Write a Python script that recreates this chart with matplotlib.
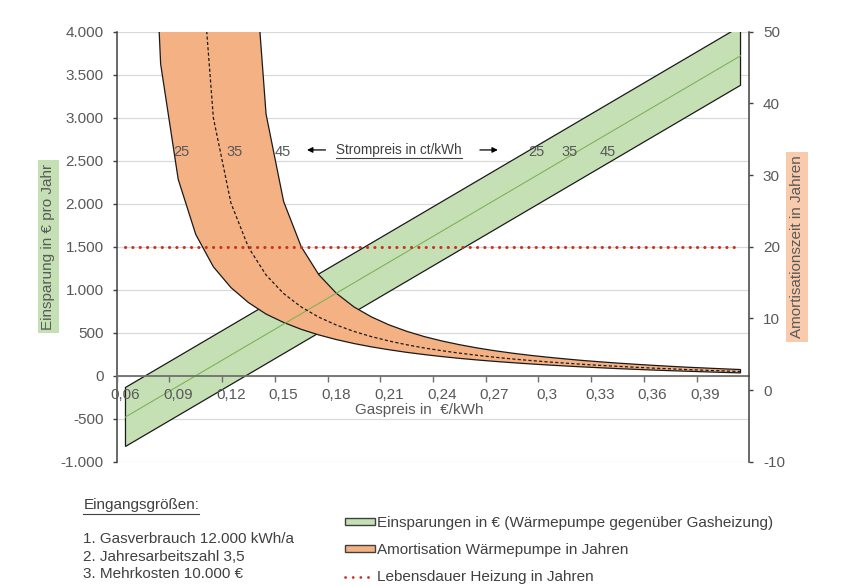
import numpy as np
import matplotlib
matplotlib.use("Agg")
import matplotlib.pyplot as plt
from matplotlib.lines import Line2D
from matplotlib.patches import Patch

# ---------------- data ----------------
gas_price = [0.06, 0.07, 0.08, 0.09, 0.10, 0.11, 0.12, 0.13, 0.14, 0.15,
             0.16, 0.17, 0.18, 0.19, 0.20, 0.21, 0.22, 0.23, 0.24, 0.25,
             0.26, 0.27, 0.28, 0.29, 0.30, 0.31, 0.32, 0.33, 0.34, 0.35,
             0.36, 0.37, 0.38, 0.39, 0.40, 0.41]

savings_x = [0.06, 0.41]
savings_25 = [-137, 4063]
savings_35 = [-480, 3720]
savings_45 = [-823, 3377]

nan = np.nan
amort_25 = [nan, 100, 45.5, 29.4, 21.7, 17.2, 14.3, 12.2, 10.6, 9.43,
            8.47, 7.69, 7.04, 6.49, 6.02, 5.62, 5.26, 4.95, 4.67, 4.42,
            4.20, 4.00, 3.82, 3.65, 3.50, 3.36, 3.23, 3.11, 2.99, 2.89,
            2.79, 2.70, 2.62, 2.54, 2.46, 2.39]
amort_35 = [nan, nan, nan, 435, 69.9, 38.0, 26.1, 19.9, 16.05, 13.46,
            11.59, 10.17, 9.07, 8.18, 7.45, 6.84, 6.32, 5.87, 5.49, 5.15,
            4.85, 4.58, 4.34, 4.13, 3.93, 3.76, 3.59, 3.44, 3.31, 3.18,
            3.06, 2.96, 2.85, 2.76, 2.67, 2.59]
amort_45 = [nan, nan, nan, nan, nan, nan, 500, 71.4, 38.5, 26.3,
            20.0, 16.1, 13.5, 11.6, 10.2, 9.09, 8.20, 7.46, 6.85, 6.33,
            5.88, 5.49, 5.15, 4.85, 4.59, 4.35, 4.13, 3.94, 3.76, 3.60,
            3.45, 3.31, 3.18, 3.07, 2.96, 2.86]
lifetime_years = 20

x_tick_values = [0.06, 0.09, 0.12, 0.15, 0.18, 0.21, 0.24, 0.27, 0.30, 0.33, 0.36, 0.39]
x_tick_labels = ["0,06", "0,09", "0,12", "0,15", "0,18", "0,21", "0,24", "0,27",
                 "0,3", "0,33", "0,36", "0,39"]
left_ticks = [-1000, -500, 0, 500, 1000, 1500, 2000, 2500, 3000, 3500, 4000]
left_tick_labels = ["-1.000", "-500", "0", "500", "1.000", "1.500", "2.000",
                    "2.500", "3.000", "3.500", "4.000"]
right_ticks = [-10, 0, 10, 20, 30, 40, 50]
right_tick_labels = ["-10", "0", "10", "20", "30", "40", "50"]
price_labels = ["25", "35", "45"]

# ---------------- style ----------------
plt.rcParams["font.family"] = ["Liberation Sans", "DejaVu Sans"]
GRAY = "#595959"
TXT = "#404040"
GREEN = "#c5e0b4"
ORANGE = "#f4b183"
RED = "#c8321e"

W, H = 844, 585
fig = plt.figure(figsize=(W / 100, H / 100), dpi=100)

def fx(px):
    return px / W

def fy(py):
    return 1 - py / H

ax = fig.add_axes([fx(116.7), fy(461.7), fx(749.3) - fx(116.7), fy(31.7) - fy(461.7)])
ax2 = ax.twinx()
x0 = gas_price[0] - 0.005
x1 = gas_price[-1] + 0.005
ax.set_xlim(x0, x1)
ax.set_ylim(-1000, 4000)
ax2.set_ylim(-10, 50)

for v in left_ticks:
    ax.axhline(v, color="#d9d9d9", lw=0.9, zorder=0)

gp = np.array(gas_price)
s25 = np.array(savings_25, float)
s35 = np.array(savings_35, float)
s45 = np.array(savings_45, float)
sx = np.array(savings_x, float)

ax.fill(np.r_[sx, sx[::-1]], np.r_[s45, s25[::-1]], facecolor=GREEN,
        edgecolor="#1a1a1a", lw=0.9, zorder=2)

a25 = np.array(amort_25, float)
a35 = np.array(amort_35, float)
a45 = np.array(amort_45, float)
m_lo = ~np.isnan(a25)
m_hi = ~np.isnan(a45)
m_mid = ~np.isnan(a35)
poly_x = np.r_[gp[m_lo], gp[m_hi][::-1]]
poly_y = np.r_[a25[m_lo], a45[m_hi][::-1]]
ax.fill(poly_x, poly_y, facecolor=ORANGE, edgecolor="#1a1a1a", lw=0.9,
        transform=ax2.transData, zorder=3)

ax.plot(sx, s35, color="#7fb35a", lw=0.8, zorder=4)
ax.plot(gp[m_mid], a35[m_mid], color="#1a1a1a", lw=0.9, ls=(0, (2.5, 1.8)),
        transform=ax2.transData, zorder=5)
ax.plot(gp, [lifetime_years] * len(gp), color=RED, lw=2.2,
        ls=(0, (0.05, 2.35)), dash_capstyle="round",
        transform=ax2.transData, zorder=6)

for s in ["top", "right"]:
    ax.spines[s].set_visible(False)
for s in ["top", "left", "bottom"]:
    ax2.spines[s].set_visible(False)
ax.spines["bottom"].set_position(("data", 0))
ax.spines["bottom"].set_color("#6f6f6f")
ax.spines["bottom"].set_linewidth(1.3)
ax.spines["bottom"].set_zorder(7)
ax.spines["left"].set_color(TXT)
ax.spines["left"].set_linewidth(1.1)
ax2.spines["right"].set_color(TXT)
ax2.spines["right"].set_linewidth(1.1)
ax.xaxis.set_zorder(9)

ax.set_xticks([g - 0.005 for g in gas_price[::3]])
ax.set_xticklabels([])
ax.tick_params(axis="x", which="major", length=4, width=1, color="#6f6f6f", direction="out")
ax.set_xticks(x_tick_values, minor=True)
ax.set_xticklabels(x_tick_labels, minor=True)
ax.tick_params(axis="x", which="minor", length=0, pad=8.5, labelsize=11, labelcolor=GRAY)

ax.set_yticks(left_ticks)
ax.set_yticklabels(left_tick_labels)
ax.tick_params(axis="y", length=3, width=1, color=TXT, pad=6.5, labelsize=11, labelcolor=GRAY)
ax2.set_yticks(right_ticks)
ax2.set_yticklabels(right_tick_labels)
ax2.tick_params(axis="y", length=3, width=1, color=TXT, pad=6.8, labelsize=11, labelcolor=GRAY)

ax.text(0.227, -400, "Gaspreis in  €/kWh", ha="center", va="center",
        fontsize=11, color=GRAY, zorder=8)
fig.text(fx(48.5), fy(246.5), "Einsparung in € pro Jahr", rotation=90, ha="center",
         va="center", fontsize=11, color=GRAY,
         bbox=dict(facecolor=GREEN, edgecolor="none", pad=2.5))
fig.text(fx(797), fy(247), "Amortisationszeit in Jahren", rotation=90, ha="center",
         va="center", fontsize=11, color=GRAY,
         bbox=dict(facecolor="#f8cbad", edgecolor="none", pad=2.5))

for lab, xp in zip(price_labels, [0.0916, 0.1223, 0.1496]):
    ax.text(xp, 2605, lab, ha="center", va="center", fontsize=10.5, color=GRAY, zorder=8)
for lab, xp in zip(price_labels, [0.294, 0.3128, 0.3346]):
    ax.text(xp, 2605, lab, ha="center", va="center", fontsize=10.5, color=GRAY, zorder=8)
strom = ax.text(0.2155, 2625, "Strompreis in ct/kWh", ha="center", va="center",
                fontsize=9.8, color=TXT, zorder=8)
ax.annotate("", xy=(0.1633, 2625), xytext=(0.1738, 2625),
            arrowprops=dict(arrowstyle="-|>", color="black", lw=0.9,
                            mutation_scale=8, shrinkA=0, shrinkB=0))
ax.annotate("", xy=(0.2719, 2625), xytext=(0.2617, 2625),
            arrowprops=dict(arrowstyle="-|>", color="black", lw=0.9,
                            mutation_scale=8, shrinkA=0, shrinkB=0))

# input block
head = fig.text(fx(83.3), fy(505), "Eingangsgrößen:", ha="left", va="center",
                fontsize=11, color=TXT)
inputs = ["1. Gasverbrauch 12.000 kWh/a", "2. Jahresarbeitszahl 3,5", "3. Mehrkosten 10.000 €"]
for txt, py in zip(inputs, [539.3, 556.7, 573.5]):
    fig.text(fx(83.3), fy(py), txt, ha="left", va="center", fontsize=11, color=TXT)

# legend
handles = [Patch(facecolor=GREEN, edgecolor=TXT, lw=1.0),
           Patch(facecolor=ORANGE, edgecolor=TXT, lw=1.0),
           Line2D([], [], color=RED, lw=2.0, ls=(0, (0.05, 2.7)), dash_capstyle="round")]
labels = ["Einsparungen in € (Wärmepumpe gegenüber Gasheizung)",
          "Amortisation Wärmepumpe in Jahren",
          "Lebensdauer Heizung in Jahren"]
fig.legend(handles, labels, loc="center left", bbox_to_anchor=(fx(345), fy(550)),
           frameon=False, borderpad=0, borderaxespad=0, handlelength=1.95,
           handleheight=0.33, handletextpad=0.12, labelspacing=0.87,
           prop=dict(size=11), labelcolor=TXT)

fig.canvas.draw()
r = fig.canvas.get_renderer()
for t, off in [(head, 1.5), (strom, 1.5)]:
    bb = t.get_window_extent(r)
    yline = bb.y0 - off
    fig.add_artist(Line2D([bb.x0 / W, bb.x1 / W], [yline / H, yline / H],
                          transform=fig.transFigure, color=t.get_color(), lw=0.8))

fig.savefig("out.png", dpi=100)
